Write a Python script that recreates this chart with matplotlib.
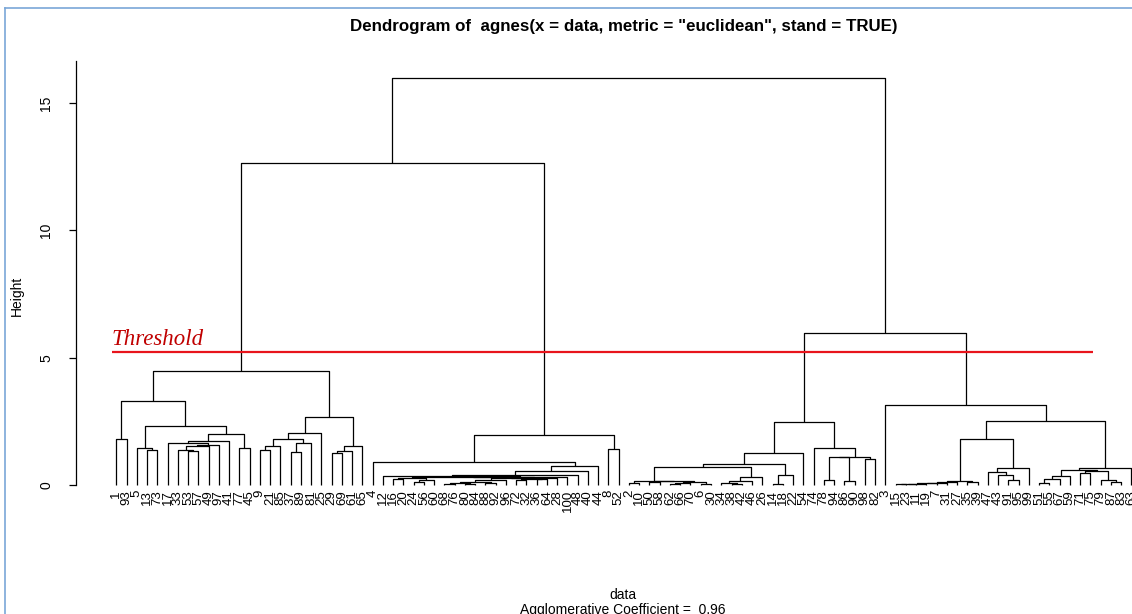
import matplotlib
matplotlib.use("Agg")
import matplotlib.pyplot as plt
from matplotlib.lines import Line2D

# ---------------- data ----------------
leaf_order = [1, 93, 5, 13, 73, 17, 33, 53, 57, 49, 97, 41, 77, 45, 9, 21, 85, 37, 89, 81, 25, 29, 69, 61, 65,
              4, 12, 16, 20, 24, 56, 60, 68, 76, 80, 84, 88, 92, 96, 72, 32, 36, 64, 28, 100, 48, 40, 44, 8, 52,
              2, 10, 50, 58, 62, 66, 70, 6, 30, 34, 38, 42, 46, 26, 14, 18, 22, 54, 74, 78, 94, 86, 90, 98, 82,
              3, 15, 23, 11, 19, 7, 31, 27, 35, 39, 47, 43, 91, 95, 99, 51, 55, 67, 59, 71, 75, 79, 87, 83, 63]

# R hclust style: negative = observation, positive = earlier merge row (1-based)
merge_left = [-53, -33, 2, 3, -17, 5, -77, 6, -13, -5, 10, -1, 12, -9, 14, -37, 16, 15, 18, -29, 20, 21, 19, 13,
              -68, -80, 25, -88, 27, 29, -72, -36, 31, 30, 34, -16, -24, 37, 36, 39, 40, -12, 42, 43, 44, -4, -8, 46, 24,
              -2, -50, -62, 52, -6, 53, 51, 50, -38, -34, 59, 60, 57, -14, 63, 62, 65, -78, -86, 67, -98, 69, -74, 66,
              -15, 74, 75, 76, 77, 78, -35, 79, -91, -43, -47, 84, 81, -51, 87, 88, -71, -87, -79, 90, 89, 94, 86, -3, 73, 49]
merge_right = [-57, 1, -49, -97, 4, -41, -45, 7, -73, 9, 8, -93, 11, -21, -85, -89, -81, 17, -25, -69, -61, -65, 22, 23,
               -76, -84, 26, -92, 28, -96, -32, -64, 32, 33, -28, -20, -56, -60, 38, 35, -100, 41, -48, -40, -44, 45, -52, 47, 48,
               -10, -58, -66, -70, -30, 54, 55, 56, -42, 58, -46, -26, 61, -18, -22, 64, -54, -94, -90, 68, -82, 70, 71, 72,
               -23, -11, -19, -7, -31, -27, -39, 80, -95, 82, 83, -99, 85, -55, -67, -59, -75, -83, 91, 92, 93, -63, 95, 96, 97, 98]
merge_height = [1.33, 1.36, 1.54, 1.58, 1.64, 1.71, 1.47, 2.02, 1.36, 1.47, 2.33, 1.81, 3.31, 1.39, 1.52, 1.28, 1.64,
                1.81, 2.04, 1.26, 1.32, 1.54, 2.66, 4.48,
                0.05, 0.04, 0.08, 0.06, 0.12, 0.18, 0.21, 0.22, 0.25, 0.27, 0.29, 0.22, 0.12, 0.20, 0.27, 0.31, 0.33,
                0.37, 0.40, 0.56, 0.75, 0.92, 1.43, 1.96, 12.66,
                0.08, 0.10, 0.03, 0.07, 0.05, 0.12, 0.15, 0.17, 0.03, 0.08, 0.17, 0.30, 0.70, 0.02, 0.38, 0.81, 1.24,
                0.20, 0.15, 1.08, 1.01, 1.11, 1.47, 2.49,
                0.03, 0.04, 0.05, 0.06, 0.08, 0.10, 0.12, 0.16, 0.18, 0.40, 0.52, 0.65, 1.81, 0.09, 0.24, 0.37, 0.46,
                0.10, 0.20, 0.56, 0.59, 0.68, 2.50, 3.14, 5.98, 16.00]

y_ticks = [0, 5, 10, 15]
threshold = 5.22
agglomerative_coef = 0.96
title = 'Dendrogram of  agnes(x = data, metric = "euclidean", stand = TRUE)'

# ---------------- figure ----------------
W, H = 1132, 614
fig = plt.figure(figsize=(W / 100, H / 100), dpi=100)
fig.patch.set_facecolor("white")
ax = fig.add_axes([75.7 / W, 1 - 501.3 / H, 1096.3 / W, 440.1 / H])
n = len(leaf_order)
ax.set_xlim(1 - 0.04 * (n - 1), n + 0.04 * (n - 1))
top = max(merge_height)
ax.set_ylim(-0.04 * top, top * 1.04)

pos = {lab: i + 1 for i, lab in enumerate(leaf_order)}
node_x, node_h = {}, {}


def ref(r):
    if r < 0:
        return pos[-r], 0.0
    return node_x[r], node_h[r]


for k, (a, b, h) in enumerate(zip(merge_left, merge_right, merge_height), start=1):
    xa, ha = ref(a)
    xb, hb = ref(b)
    ax.plot([xa, xa, xb, xb], [ha, h, h, hb], color="black", lw=0.9, solid_capstyle="butt")
    node_x[k] = (xa + xb) / 2
    node_h[k] = h

# leaf labels
for lab, x in pos.items():
    ax.text(x, -0.2, str(lab), rotation=90, ha="center", va="top", fontsize=9.5,
            family="Liberation Sans", clip_on=False)

# threshold
ax.plot([0.58, 96.3], [threshold, threshold], color="#e8141c", lw=1.6, solid_capstyle="butt")
ax.text(0.58, threshold + 0.28, "Threshold", color="#c00000", fontsize=16.5, style="italic",
        family=["Liberation Serif", "DejaVu Serif"], ha="left", va="baseline")

# axes styling
for s in ["top", "right", "bottom"]:
    ax.spines[s].set_visible(False)
ax.spines["left"].set_bounds(0, top * 1.04)
ax.spines["left"].set_linewidth(0.9)
ax.set_xticks([])
ax.set_yticks(y_ticks)
ax.set_yticklabels([str(t) for t in y_ticks], rotation=90, va="center", fontsize=10,
                   family="Liberation Sans")
ax.tick_params(axis="y", length=5, width=0.9, pad=11)

fig.text(17 / W, 1 - 296 / H, "Height", rotation=90, ha="center", va="center", fontsize=10,
         family="Liberation Sans")
fig.text(624 / W, 1 - 27 / H, title, ha="center", va="center", fontsize=12.2, fontweight="bold",
         family="Liberation Sans")
fig.text(623 / W, 1 - 595 / H, "data", ha="center", va="center", fontsize=10, family="Liberation Sans")
fig.text(623 / W, 1 - 603 / H, "Agglomerative Coefficient =  %.2f" % agglomerative_coef,
         ha="center", va="top", fontsize=10, family="Liberation Sans")

# light blue window border of the screenshot
fig.add_artist(Line2D([5 / W, 5 / W], [0, 1 - 8 / H], color="#7aa7d8", lw=1.2))
fig.add_artist(Line2D([5 / W, 1], [1 - 8 / H, 1 - 8 / H], color="#7aa7d8", lw=1.2))

fig.savefig("out.png", dpi=100)
